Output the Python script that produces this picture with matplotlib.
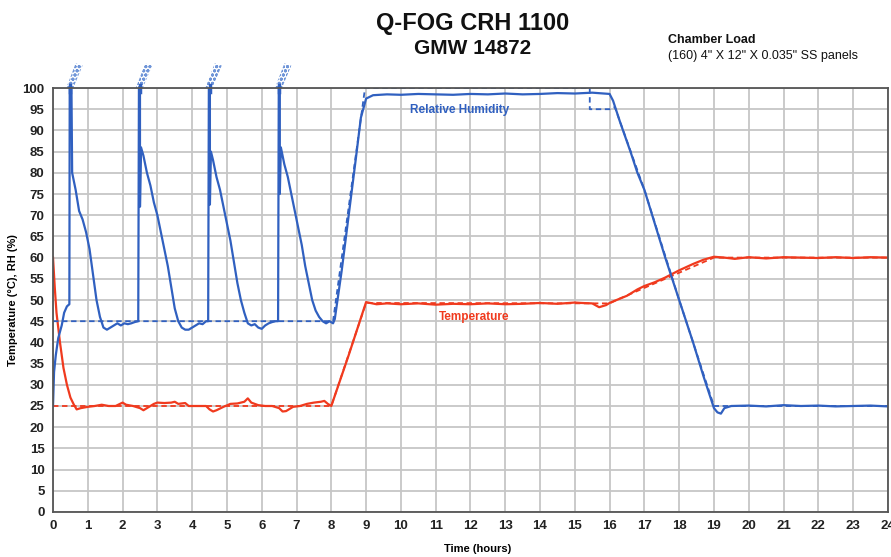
import numpy as np
import matplotlib
matplotlib.use("Agg")
import matplotlib.pyplot as plt
from matplotlib.patches import Polygon

plt.rcParams['font.family'] = ['Liberation Sans', 'DejaVu Sans']

# Relative humidity, measured (hours, %)
rh_time = [0.0, 0.03, 0.08, 0.15, 0.25, 0.32, 0.4, 0.47, 0.48, 0.53, 0.55,
           0.65, 0.75, 0.85, 0.95, 1.05, 1.15, 1.25, 1.35, 1.45, 1.55, 1.65,
           1.75, 1.85, 1.95, 2.05, 2.15, 2.25, 2.35, 2.45, 2.47, 2.5, 2.5,
           2.53, 2.6, 2.7, 2.8, 2.9, 3.0, 3.1, 3.2, 3.3, 3.4, 3.5, 3.6, 3.7,
           3.8, 3.9, 4.0, 4.1, 4.2, 4.3, 4.4, 4.46, 4.48, 4.51, 4.51,
           4.54, 4.6, 4.7, 4.8, 4.9, 5.0, 5.1, 5.2, 5.3, 5.4, 5.5, 5.6, 5.7,
           5.8, 5.9, 6.0, 6.1, 6.2, 6.3, 6.4, 6.47, 6.49, 6.52, 6.52,
           6.55, 6.65, 6.75, 6.85, 6.95, 7.05, 7.15, 7.25, 7.35, 7.45, 7.55,
           7.65, 7.75, 7.85, 7.95, 8.05, 8.1,
           8.3, 8.5, 8.7, 8.85, 9.0, 9.2, 9.6, 10.0, 10.5, 11.0, 11.5, 12.0,
           12.5, 13.0, 13.5, 14.0, 14.5, 15.0, 15.5, 16.0, 16.1, 16.3, 16.6,
           16.8, 17.0, 17.3, 17.6, 18.0, 18.4, 18.7, 19.0, 19.1, 19.2, 19.3,
           19.5, 20.0, 20.5, 21.0, 21.5, 22.0, 22.5, 23.0, 23.5, 24.0]
rh_value = [25, 33, 37, 41, 44, 47, 48.5, 49, 100, 100, 80,
            76, 71, 69, 66, 62, 56, 50, 46, 43.5, 43, 43.5,
            44, 44.5, 44, 44.5, 44.3, 44.5, 44.8, 45, 100, 100, 72,
            86, 84, 80, 77, 73, 70, 66, 62, 58, 53, 48, 45, 43.5,
            43, 43, 43.5, 44, 44.5, 44.3, 45, 45, 100, 100, 72.5,
            85, 83, 79, 76, 72, 68, 64, 59, 54, 50, 47, 44.5, 44,
            44.3, 43.5, 43.2, 44, 44.5, 44.8, 45, 45, 100, 100, 75,
            86, 82, 79, 75, 71, 67, 63, 58, 54, 50, 47.5,
            46, 45, 44.5, 45, 44.5, 45.5,
            57, 70, 83, 93, 97.5, 98.3, 98.5, 98.4, 98.6, 98.5, 98.4, 98.6,
            98.5, 98.7, 98.5, 98.6, 98.8, 98.7, 98.9, 98.6, 97, 92, 85,
            80, 76, 68, 60, 50, 40, 32, 24.5, 23.5, 23.2, 24.5,
            25, 25.1, 24.9, 25.2, 25, 25.1, 24.9, 25, 25.1, 24.9]

# Relative humidity, set point
rh_set_time = [0.0, 8.05, 8.97, 15.43, 15.43, 16.0, 16.15, 17.0, 18.0, 19.0, 24.0]
rh_set_value = [45, 45, 100, 100, 95, 95, 95.5, 76, 50, 25, 25]

# Temperature, measured (hours, deg C)
temp_time = [0.0, 0.05, 0.1, 0.2, 0.3, 0.4, 0.5, 0.6, 0.68, 0.8, 1.0, 1.2,
             1.4, 1.6, 1.8, 2.0, 2.1, 2.3, 2.5, 2.6, 2.7, 2.9, 3.0, 3.2, 3.4,
             3.5, 3.6, 3.8, 3.9, 4.2, 4.4, 4.5, 4.6, 4.7, 4.9, 5.1, 5.3, 5.5,
             5.6, 5.7, 5.9, 6.1, 6.3, 6.5, 6.6, 6.7, 6.9, 7.1, 7.3, 7.5, 7.7,
             7.8, 7.9, 8.0, 8.5, 9.0, 9.3, 9.6, 10.0, 10.5, 11.0, 11.5, 12.0,
             12.5, 13.0, 13.5, 14.0, 14.5, 15.0, 15.2, 15.5, 15.7, 15.9, 16.0,
             16.2, 16.5, 16.8, 17.0, 17.3, 17.6, 18.0, 18.4, 18.7, 19.0, 19.3,
             19.6, 20.0, 20.5, 21.0, 21.5, 22.0, 22.5, 23.0, 23.5, 24.0]
temp_value = [60, 53, 47, 40, 34, 30, 27, 25.3, 24.2, 24.5, 24.8, 25,
              25.3, 25, 25, 25.8, 25.3, 25, 24.5, 24, 24.5, 25.5, 25.8, 25.7, 25.8,
              26, 25.5, 25.7, 25, 25, 25, 24.2, 23.7, 24, 24.8, 25.5, 25.6, 26,
              26.8, 25.8, 25.2, 25, 25, 24.5, 23.7, 23.8, 24.8, 25, 25.5, 25.8, 26,
              26.2, 25.5, 25, 37, 49.5, 49, 49.2, 49, 49.2, 48.9, 49.1, 49,
              49.2, 49, 49.1, 49.3, 49.1, 49.4, 49.3, 49.2, 48.3, 48.8, 49.3,
              50, 51, 52.5, 53.3, 54.2, 55.3, 57, 58.5, 59.5, 60.2, 60,
              59.7, 60.1, 59.8, 60.1, 60, 59.9, 60.1, 59.9, 60.1, 60]

# Temperature, set point
temp_set_time = [0.0, 8.0, 9.0, 16.0, 16.2, 19.0, 24.0]
temp_set_value = [25, 25, 49.3, 49.2, 50, 60, 60]

# times where the fog spike runs off the top of the chart
spike_times = [0.5, 2.5, 4.5, 6.5]

blue = '#3060c0'
red = '#f03a1e'

fig = plt.figure(figsize=(8.91, 5.57), dpi=100)
ax = fig.add_axes([0.0595, 0.0808, 0.937, 0.7612])

ax.plot(temp_set_time, temp_set_value, color=red, lw=1.3, ls=(0, (3, 2)))
ax.plot(temp_time, temp_value, color=red, lw=1.6)
ax.plot(rh_set_time, rh_set_value, color=blue, lw=1.3, ls=(0, (3, 2)))
ax.plot(rh_time, rh_value, color=blue, lw=1.6)

# hatched marks above the top edge for the clipped spikes
for t in spike_times:
    corners = [(t - 0.12, 100), (t + 0.08, 100), (t + 0.35, 105.3), (t + 0.15, 105.8)]
    ax.add_patch(Polygon(corners, closed=True, facecolor='none', edgecolor='#6f95d8',
                         hatch='oooo', lw=0, clip_on=False))
    ax.plot([t, t], [99, 100.6], color=blue, lw=2.5, clip_on=False)

ax.set_xlim(0, 24)
ax.set_ylim(0, 100)
ax.set_xticks(range(0, 25))
ax.set_yticks(range(0, 101, 5))
ax.grid(True, color='#c6c6c6', lw=1.3)
ax.set_axisbelow(True)
ax.tick_params(length=0, labelsize=9.5, pad=6, colors='#222222')
for lab in ax.get_xticklabels() + ax.get_yticklabels():
    lab.set_fontweight('bold')
for s in ax.spines.values():
    s.set_color('#555555')
    s.set_linewidth(1.3)

ax.set_xlabel('Time (hours)', fontsize=8, fontweight='bold')
ax.xaxis.set_label_coords(0.509, -0.075)
ax.set_ylabel('Temperature (°C), RH (%)', fontsize=8, fontweight='bold', labelpad=3)

ax.text(11.7, 94.8, 'Relative Humidity', color=blue, fontsize=8.5, fontweight='bold',
        ha='center', va='center')
ax.text(12.1, 46.0, 'Temperature', color=red, fontsize=8.5, fontweight='bold',
        ha='center', va='center')

fig.text(0.531, 0.958, 'Q-FOG CRH 1100', fontsize=17, fontweight='bold',
         ha='center', va='center', color='#111111')
fig.text(0.531, 0.913, 'GMW 14872', fontsize=15, fontweight='bold',
         ha='center', va='center', color='#111111')
fig.text(0.750, 0.928, 'Chamber Load', fontsize=9, fontweight='bold',
         ha='left', va='center', color='#111111')
fig.text(0.750, 0.900, '(160) 4" X 12" X 0.035" SS panels', fontsize=9,
         ha='left', va='center', color='#111111')

fig.savefig('out.png', dpi=100)
